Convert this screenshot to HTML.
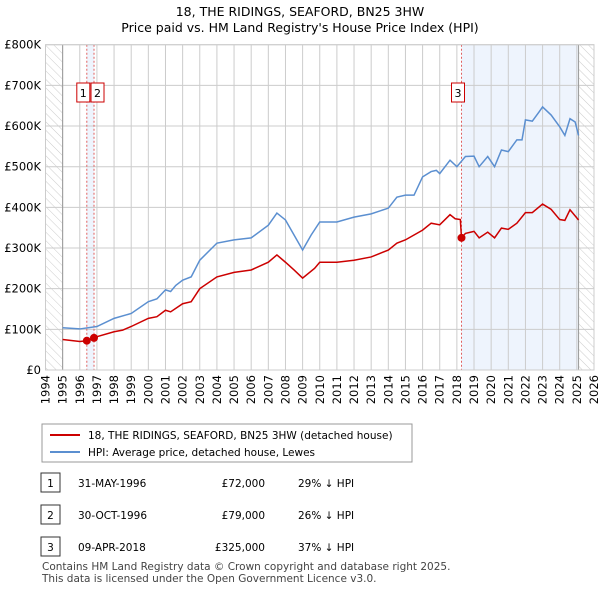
<!DOCTYPE html>
<html><head><meta charset="utf-8"><style>
body{margin:0;background:#fff;font-family:"DejaVu Sans","Liberation Sans",sans-serif;}
svg text{font-family:"DejaVu Sans","Liberation Sans",sans-serif;}
</style></head><body>
<svg id="c" width="600" height="590" viewBox="0 0 600 590" xmlns="http://www.w3.org/2000/svg">
<defs><pattern id="hatch" width="6" height="6" patternUnits="userSpaceOnUse" patternTransform="rotate(-45)"><line x1="0" y1="0" x2="0" y2="6" stroke="#ccc" stroke-width="1"/></pattern></defs>
<text x="300" y="16" text-anchor="middle" font-size="12.5">18, THE RIDINGS, SEAFORD, BN25 3HW</text>
<text x="300" y="32" text-anchor="middle" font-size="12.5">Price paid vs. HM Land Registry's House Price Index (HPI)</text>
<g id="plot"></g>
<g>
<rect x="42" y="424" width="370" height="38" fill="#fff" stroke="#999"/>
<line x1="50" y1="435" x2="80" y2="435" stroke="#cc0000" stroke-width="2"/>
<text x="88" y="439" font-size="10.5">18, THE RIDINGS, SEAFORD, BN25 3HW (detached house)</text>
<line x1="50" y1="452" x2="80" y2="452" stroke="#5b8fd0" stroke-width="2"/>
<text x="88" y="456" font-size="10.5">HPI: Average price, detached house, Lewes</text>
</g>
<g id="table"></g>
<text x="42" y="570" font-size="10.5" fill="#444">Contains HM Land Registry data © Crown copyright and database right 2025.</text>
<text x="42" y="582" font-size="10.5" fill="#444">This data is licensed under the Open Government Licence v3.0.</text>
</svg>
<script>
const hpiYears=[1995,1996,1997,1998,1999,2000,2000.5,2001,2001.3,2001.6,2002,2002.5,2003,2004,2005,2006,2007,2007.5,2008,2008.5,2009,2009.5,2010,2011,2012,2013,2014,2014.5,2015,2015.5,2016,2016.5,2016.8,2017,2017.6,2018,2018.5,2019,2019.3,2019.8,2020.2,2020.6,2021,2021.5,2021.8,2022,2022.4,2022.8,2023,2023.5,2024,2024.3,2024.6,2024.9,2025.1];
const hpiValues=[104,101,107,127,139,168,175,197,193,208,221,229,270,312,320,325,356,386,369,332,295,332,364,364,376,384,398,425,430,430,475,488,491,483,516,500,525,526,500,525,500,541,537,566,566,615,612,635,647,627,598,577,618,610,577];
const redYears=[1995,1996,1996.41,1996.83,1997,1998,1998.5,1999,2000,2000.5,2001,2001.3,2002,2002.5,2003,2004,2005,2006,2007,2007.5,2008,2008.5,2009,2009.7,2010,2011,2012,2013,2014,2014.5,2015,2016,2016.5,2017,2017.6,2017.9,2018.2,2018.27,2018.5,2019,2019.3,2019.8,2020.2,2020.6,2021,2021.5,2022,2022.4,2023,2023.5,2024,2024.3,2024.6,2025.1];
const redValues=[75,70,72,79,82,94,98,107,127,131,147,143,163,168,200,229,240,246,265,283,265,246,226,250,265,265,270,278,295,312,320,344,361,357,382,372,370,325,336,341,325,339,325,349,346,361,387,387,408,395,370,368,394,369];
const saleLabels=["1","2","3"];
const saleYears=[1996.41,1996.83,2018.27];
const salePrices=[72,79,325];
const saleDates=["31-MAY-1996","30-OCT-1996","09-APR-2018"];
const salePriceText=["£72,000","£79,000","£325,000"];
const saleHpiText=["29% ↓ HPI","26% ↓ HPI","37% ↓ HPI"];
const yTicks=[0,100,200,300,400,500,600,700,800];
const yTickLabels=["£0","£100K","£200K","£300K","£400K","£500K","£600K","£700K","£800K"];
const xStart=1994,xEnd=2026;
const L=45.5,R=594,T=44.7,B=370;
const X=y=>L+(y-xStart)*(R-L)/(xEnd-xStart);
const Y=v=>B-v*(B-T)/800;
const NS="http://www.w3.org/2000/svg";
const g=document.getElementById('plot');
function mk(tag,attrs,parent){const e=document.createElementNS(NS,tag);for(const k in attrs)e.setAttribute(k,attrs[k]);(parent||g).appendChild(e);return e;}
let e;
e=mk('rect',{x:L,y:T,width:R-L,height:B-T,fill:'#fff'});


e=mk('rect',{x:X(2018.27),y:T,width:X(2025.1)-X(2018.27),height:B-T,fill:'#eef4fd'});


e=mk('rect',{x:X(1996.41),y:T,width:X(1996.83)-X(1996.41),height:B-T,fill:'#eef4fd'});


e=mk('rect',{x:L,y:T,width:X(1995)-L,height:B-T,fill:'url(#hatch)'});


e=mk('rect',{x:X(2025.1),y:T,width:R-X(2025.1),height:B-T,fill:'url(#hatch)'});


for(let i=0;i<yTicks.length;i++){
 e=mk('line',{x1:L,x2:R,y1:Y(yTicks[i]),y2:Y(yTicks[i]),stroke:'#ccc'});
 
 
 e=mk('text',{x:41,y:Y(yTicks[i])+4,'text-anchor':'end','font-size':'11.5'});
 e.textContent=yTickLabels[i];
 
 
}
for(let yr=xStart;yr<=xEnd;yr++){
 e=mk('line',{x1:X(yr),x2:X(yr),y1:T,y2:B,stroke:'#ccc'});
 
 
 e=mk('text',{x:0,y:0,'text-anchor':'end','font-size':'11.5',transform:`translate(${X(yr)+4},375) rotate(-90)`});
 e.textContent=yr;
 
 
}
e=mk('line',{x1:X(1995),x2:X(1995),y1:T,y2:B,stroke:'#999'});


e=mk('line',{x1:X(2025.1),x2:X(2025.1),y1:T,y2:B,stroke:'#999'});


for(let i=0;i<saleYears.length;i++){
 e=mk('line',{x1:X(saleYears[i]),x2:X(saleYears[i]),y1:T,y2:B,stroke:'#e06060','stroke-dasharray':'2,2'});
 
 
}
e=mk('polyline',{points:hpiYears.map((y,i)=>X(y)+','+Y(hpiValues[i])).join(' '),fill:'none',stroke:'#5b8fd0','stroke-width':'1.5'});


e=mk('polyline',{points:redYears.map((y,i)=>X(y)+','+Y(redValues[i])).join(' '),fill:'none',stroke:'#cc0000','stroke-width':'1.5'});


for(let i=0;i<saleYears.length;i++){
 e=mk('circle',{cx:X(saleYears[i]),cy:Y(salePrices[i]),r:4,fill:'#cc0000'});
 
 
 const bx=X(saleYears[i])+(i==0?-10:(i==1?-3:-10));
 e=mk('rect',{x:bx,y:83,width:13,height:19,fill:'#fff',stroke:'#cc0000'});
 
 
 e=mk('text',{x:bx+6.5,y:97,'text-anchor':'middle','font-size':'11'});
 e.textContent=saleLabels[i];
 
 
}
e=mk('rect',{x:L,y:T,width:R-L,height:B-T,fill:'none',stroke:'#ccc'});


const tg=document.getElementById('table');
const rowY=[483,515,547];
for(let i=0;i<3;i++){
 e=mk('rect',{x:41,y:rowY[i]-10,width:19,height:19,fill:'#fff',stroke:'#333'},tg);
 
 
 e=mk('text',{x:50.5,y:rowY[i]+4,'text-anchor':'middle','font-size':'10.5'},tg);
 e.textContent=saleLabels[i];
 
 
 e=mk('text',{x:78,y:rowY[i]+4,'font-size':'10.5'},tg);
 e.textContent=saleDates[i];
 
 
 e=mk('text',{x:265,y:rowY[i]+4,'font-size':'10.5','text-anchor':'end'},tg);
 e.textContent=salePriceText[i];
 
 
 e=mk('text',{x:298,y:rowY[i]+4,'font-size':'10.5'},tg);
 e.textContent=saleHpiText[i];
 
 
}
</script>
</body></html>
